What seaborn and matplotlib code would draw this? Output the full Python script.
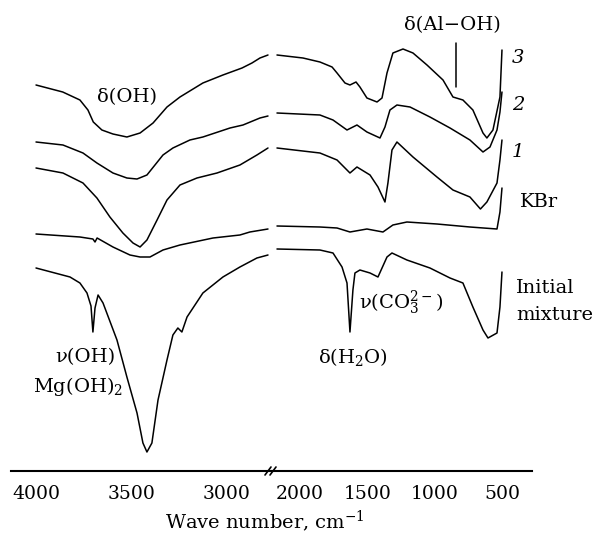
import matplotlib
matplotlib.use("Agg")
import matplotlib.pyplot as plt
import seaborn as sns
from matplotlib.lines import Line2D

# IR spectra, transmittance in arbitrary units (curves stacked as in the original)
# high-frequency part (4000 - 2800 cm-1)
wn3_hi = [4000, 3860, 3770, 3728, 3700, 3655, 3597, 3524, 3455, 3387, 3314, 3246, 3126, 3021, 2921, 2869, 2827, 2785]
t3_hi = [386, 379, 371, 361, 349, 341, 337, 334, 338, 348, 364, 374, 388, 396, 403, 408, 413, 416]

wn2_hi = [4000, 3859, 3754, 3681, 3597, 3524, 3471, 3419, 3335, 3283, 3194, 3126, 2984, 2916, 2827, 2785]
t2_hi = [329, 326, 318, 308, 298, 293, 292, 296, 316, 323, 331, 334, 343, 346, 353, 355]

wn1_hi = [4000, 3859, 3754, 3681, 3613, 3545, 3492, 3455, 3419, 3366, 3314, 3246, 3157, 3052, 2932, 2843, 2785]
t1_hi = [303, 298, 288, 273, 254, 238, 228, 224, 231, 251, 271, 286, 293, 298, 306, 316, 323]

wnk_hi = [4000, 3770, 3702, 3691, 3680, 3597, 3508, 3455, 3403, 3335, 3246, 3073, 2932, 2880, 2785]
tk_hi = [237, 234, 232, 229, 233, 224, 216, 214, 214, 221, 226, 233, 236, 239, 242]

wni_hi = [4000, 3822, 3770, 3733, 3712, 3702, 3691, 3675, 3649, 3576, 3524, 3471, 3440, 3419, 3393,
          3361, 3314, 3283, 3257, 3236, 3209, 3126, 3021, 2932, 2843, 2785]
ti_hi = [203, 194, 188, 178, 165, 139, 163, 176, 168, 131, 94, 58, 28, 19, 28,
         71, 111, 136, 143, 139, 154, 178, 194, 204, 213, 216]

# low-frequency part (2200 - 500 cm-1)
wn3_lo = [2171, 1978, 1852, 1762, 1725, 1666, 1629, 1584, 1555, 1503, 1428, 1391, 1354, 1310,
          1235, 1161, 1057, 938, 864, 790, 716, 641, 612, 567, 515, 500]
t3_lo = [416, 413, 409, 404, 398, 388, 386, 389, 384, 373, 369, 373, 398, 418,
         422, 418, 406, 391, 374, 371, 361, 338, 333, 341, 374, 421]

wn2_lo = [2171, 1852, 1755, 1651, 1577, 1503, 1406, 1369, 1332, 1280, 1183, 1035, 886, 738, 641, 589, 537, 515, 500]
t2_lo = [358, 356, 351, 341, 346, 339, 333, 344, 361, 366, 364, 354, 343, 331, 319, 324, 341, 359, 379]

wn1_lo = [2171, 1852, 1725, 1629, 1577, 1480, 1421, 1369, 1347, 1317, 1280, 1161, 983, 864, 738, 660, 612, 537, 515, 500]
t1_lo = [323, 318, 311, 298, 304, 296, 284, 269, 288, 321, 329, 314, 294, 281, 274, 262, 269, 288, 311, 331]

wnk_lo = [2171, 1852, 1725, 1629, 1503, 1384, 1310, 1206, 983, 738, 537, 515, 500]
tk_lo = [245, 244, 243, 239, 242, 239, 246, 249, 247, 244, 242, 259, 283]

wni_lo = [2171, 1852, 1755, 1688, 1651, 1629, 1607, 1592, 1555, 1480, 1421, 1354, 1317, 1206,
          1035, 886, 790, 716, 641, 604, 537, 515, 500]
ti_lo = [222, 221, 218, 204, 188, 139, 181, 198, 201, 198, 194, 214, 218, 211,
         203, 193, 188, 164, 141, 133, 138, 164, 199]

hi_ticks = [4000, 3500, 3000]
lo_ticks = [2000, 1500, 1000, 500]

sns.set_style("white")
plt.rcParams['font.family'] = ['DejaVu Serif']
plt.rcParams['mathtext.fontset'] = 'dejavuserif'
plt.rcParams['text.color'] = 'black'

W, H = 606, 533
fig = plt.figure(figsize=(W / 100, H / 100), dpi=100)
ax1 = fig.add_axes([11 / W, 1 - 471 / H, 261 / W, 471 / H])
ax2 = fig.add_axes([272 / W, 1 - 471 / H, 260 / W, 471 / H])

for wn, t in [(wn3_hi, t3_hi), (wn2_hi, t2_hi), (wn1_hi, t1_hi), (wnk_hi, tk_hi), (wni_hi, ti_hi)]:
    sns.lineplot(x=wn, y=t, ax=ax1, color='black', lw=1.1, sort=False, estimator=None)
for wn, t in [(wn3_lo, t3_lo), (wn2_lo, t2_lo), (wn1_lo, t1_lo), (wnk_lo, tk_lo), (wni_lo, ti_lo)]:
    sns.lineplot(x=wn, y=t, ax=ax2, color='black', lw=1.1, sort=False, estimator=None)

ax1.set_xlim(4131, 2764)
ax2.set_xlim(2208, 277)
for ax, major, minor in [(ax1, hi_ticks, [3750, 3250]), (ax2, lo_ticks, [1750, 1250, 750])]:
    ax.set_ylim(0, 471)
    ax.set_xticks(major)
    ax.set_xticks(minor, minor=True)
    ax.set_xticklabels([str(v) for v in major])
    ax.set_yticks([])
    ax.set_xlabel('')
    ax.set_ylabel('')
    for s in ['left', 'right', 'top']:
        ax.spines[s].set_visible(False)
    ax.spines['bottom'].set_linewidth(1.5)
    ax.spines['bottom'].set_color('black')
    ax.tick_params(axis='x', which='both', direction='out', length=7, width=1.2,
                   colors='black', labelcolor='black', labelsize=13.5, pad=3)
    ax.patch.set_alpha(0)

# axis break marks
for dx in (-3, 2):
    fig.add_artist(Line2D([(268 + dx) / W, (274 + dx) / W], [1 - 475 / H, 1 - 467 / H],
                          transform=fig.transFigure, color='black', lw=1.2))

fs = 14
ax1.text(3524, 374, 'δ(OH)', ha='center', va='center', fontsize=fs, color='black')
ax1.text(3586, 114, 'ν(OH)', ha='right', va='center', fontsize=fs, color='black')
ax1.text(3545, 84, 'Mg(OH)$_2$', ha='right', va='center', fontsize=fs, color='black', clip_on=False)

ax2.text(872, 446, 'δ(Al−OH)', ha='center', va='center', fontsize=fs, color='black')
ax2.plot([842, 842], [384, 428], color='black', lw=1.1)
ax2.text(1250, 168, 'ν(CO$_3^{2-}$)', ha='center', va='center', fontsize=fs, color='black')
ax2.text(1607, 114, 'δ(H$_2$O)', ha='center', va='center', fontsize=fs, color='black')

ax2.text(426, 413, '3', ha='left', va='center', fontsize=fs, style='italic', color='black', clip_on=False)
ax2.text(426, 366, '2', ha='left', va='center', fontsize=fs, style='italic', color='black', clip_on=False)
ax2.text(426, 319, '1', ha='left', va='center', fontsize=fs, style='italic', color='black', clip_on=False)
ax2.text(367, 269, 'KBr', ha='left', va='center', fontsize=fs, color='black', clip_on=False)
ax2.text(396, 183, 'Initial', ha='left', va='center', fontsize=fs, color='black', clip_on=False)
ax2.text(396, 156, 'mixture', ha='left', va='center', fontsize=fs, color='black', clip_on=False)

fig.text(265 / W, 1 - 521 / H, 'Wave number, cm$^{-1}$', ha='center', va='center',
         fontsize=fs, color='black')

fig.savefig('out.png', dpi=100)
